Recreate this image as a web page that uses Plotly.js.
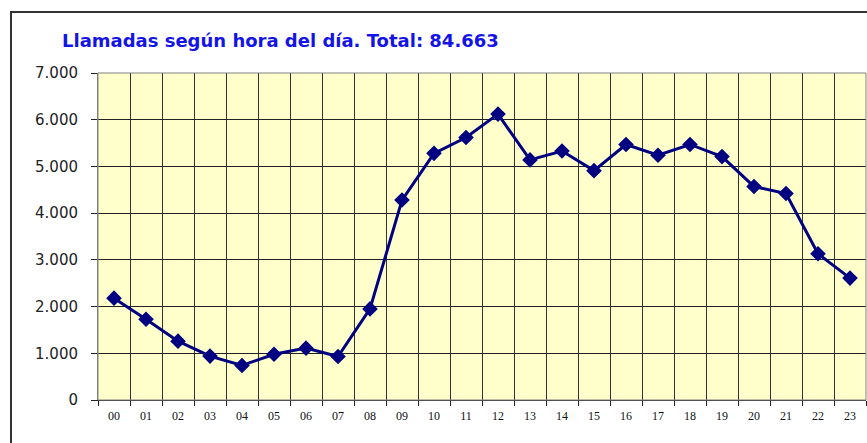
<!DOCTYPE html>
<html>
<head>
<meta charset="utf-8">
<script src="https://cdn.plot.ly/plotly-3.0.1.min.js"></script>
<style>
  html, body { margin: 0; padding: 0; background: #fff; }
  #chart { width: 867px; height: 443px; }
</style>
</head>
<body>
<div id="chart"></div>
<script>
// Hours of the day (category labels)
const hours = ['00','01','02','03','04','05','06','07','08','09','10','11',
               '12','13','14','15','16','17','18','19','20','21','22','23'];
// Calls per hour
const calls = [2180, 1730, 1260, 940, 740, 980, 1110, 930, 1950, 4280, 5280, 5620,
               6120, 5140, 5330, 4910, 5470, 5240, 5470, 5210, 4570, 4420, 3130, 2610];
const chartTitle = 'Llamadas según hora del día. Total: 84.663';
const yTicks = [0, 1000, 2000, 3000, 4000, 5000, 6000, 7000];

const W = 867, H = 443;
const L = 98, R = 1, T = 73, B = 43;
const pw = W - L - R, ph = H - T - B;
const px = v => (v - L) / pw;
const py = v => 1 - (v - T) / ph;

const trace = {
  type: 'scatter',
  mode: 'lines+markers',
  x: hours,
  y: calls,
  line: { color: '#000080', width: 3 },
  marker: { symbol: 'diamond', size: 12, color: '#000080', line: { width: 0 } },
  hoverinfo: 'x+y'
};

const layout = {
  width: W, height: H,
  margin: { l: L, r: R, t: T, b: B, pad: 0 },
  paper_bgcolor: '#ffffff',
  plot_bgcolor: '#FFFFCC',
  separators: ',.',
  showlegend: false,
  title: {
    text: '<b>' + chartTitle + '</b>',
    font: { family: 'DejaVu Sans, Verdana, sans-serif', size: 18, color: '#1414E6' },
    xref: 'container', x: 62 / W, xanchor: 'left',
    yref: 'container', y: 1 - 41 / H, yanchor: 'middle'
  },
  xaxis: {
    type: 'category',
    range: [-0.5, 23.5],
    tickson: 'boundaries',
    showgrid: true,
    gridcolor: '#333333',
    gridwidth: 1,
    showline: true,
    linecolor: '#222222',
    linewidth: 1,
    ticks: 'outside',
    ticklen: 5,
    tickcolor: '#222222',
    tickfont: { family: 'Liberation Serif, Times New Roman, serif', size: 12, color: '#111111' },
    ticklabelstandoff: 5,
    zeroline: false,
    fixedrange: true
  },
  yaxis: {
    range: [0, 7000],
    tickvals: yTicks,
    tickformat: ',d',
    showgrid: true,
    gridcolor: '#222222',
    gridwidth: 1,
    showline: true,
    linecolor: '#808080',
    linewidth: 1,
    ticks: 'outside',
    ticklen: 6,
    tickcolor: '#222222',
    tickfont: { family: 'DejaVu Sans, Verdana, sans-serif', size: 15, color: '#222222' },
    ticklabelstandoff: 10,
    zeroline: false,
    fixedrange: true
  },
  shapes: [
    // plot-area border (top / right)
    { type: 'rect', xref: 'paper', yref: 'paper', x0: 0, x1: 1, y0: 0, y1: 1,
      line: { color: '#808080', width: 1 }, fillcolor: 'rgba(0,0,0,0)', layer: 'above' },
    // outer chart frame
    { type: 'rect', xref: 'paper', yref: 'paper',
      x0: px(11), x1: px(W + 20), y0: py(H + 20), y1: py(12),
      line: { color: '#333333', width: 2 }, fillcolor: 'rgba(0,0,0,0)', layer: 'below' }
  ]
};

Plotly.newPlot('chart', [trace], layout, { displayModeBar: false, staticPlot: true });
</script>
</body>
</html>
